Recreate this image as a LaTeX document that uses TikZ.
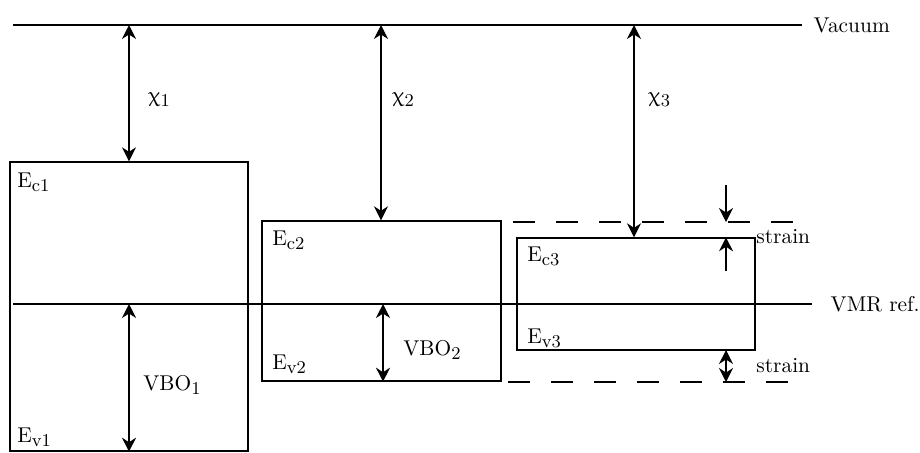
\documentclass[tikz,border=0pt]{standalone}
\usepackage{upgreek}
\usetikzlibrary{arrows.meta}
\DeclareMathSizes{10.7}{10.7}{9.4}{8}
\tikzset{
  level/.style={line width=0.7pt},
  band/.style={draw, line width=0.7pt, rectangle, inner sep=0pt},
  offset/.style={line width=0.7pt, {Stealth[length=7pt,width=7pt]}-{Stealth[length=7pt,width=7pt]}},
  pointer/.style={line width=0.7pt, -{Stealth[length=7pt,width=7pt]}},
  refline/.style={line width=0.7pt, dash pattern=on 11pt off 10.5pt},
  lbl/.style={anchor=west, inner sep=0pt},
}

\begin{document}
\begin{tikzpicture}[x=0.5pt, y=-0.5pt, font=\fontsize{10.7}{13}\selectfont]
\useasboundingbox (0,0) rectangle (920,452);
% reference levels
\coordinate (vacL) at (13,25);
\coordinate (vacR) at (802,25);
\coordinate (vmrL) at (13,304);
\coordinate (vmrR) at (812,304);
\draw[level] (vacL) -- (vacR) node[lbl, right=5.5pt] (vaclbl) {Vacuum};
\draw[level] (vmrL) -- (vmrR) node[lbl, right=9pt] (vmrlbl) {VMR ref.};
% bands
\node[band, minimum width=119pt, minimum height=144.5pt] (b1) at (129,306.5) {};
\node[band, minimum width=119.5pt, minimum height=80pt] (b2) at (381.5,301) {};
\node[band, minimum width=119pt, minimum height=56pt] (b3) at (636,294) {};
% unstrained positions of layer 3
\coordinate (ecL) at (513,222);
\coordinate (ecR) at (798,222);
\coordinate (evL) at (508,382);
\coordinate (evR) at (792,382);
\draw[refline] (ecL) -- (ecR);
\draw[refline] (evL) -- (evR);
% electron affinities
\coordinate (x1) at (129,25);
\coordinate (x2) at (381,25);
\coordinate (x3) at (634,25);
\draw[offset] (x1) -- (x1 |- b1.north);
\draw[offset] (x2) -- (x2 |- b2.north);
\draw[offset] (x3) -- (x3 |- b3.north);
\node[lbl] (chi1) at (148,100) {$\upchi_1$};
\node[lbl] (chi2) at (392,100) {$\upchi_2$};
\node[lbl] (chi3) at (648,100) {$\upchi_3$};
% valence band offsets
\coordinate (o1) at (129,304);
\coordinate (o2) at (383,304);
\draw[offset] (o1) -- (o1 |- b1.south);
\draw[offset] (o2) -- (o2 |- b2.south);
\node[lbl] (vbo1) at (143,385) {VBO$_1$};
\node[lbl] (vbo2) at (403,350) {VBO$_2$};
% band edge labels
\node[lbl] (ec1) at (17,182) {E$_{\mathrm{c1}}$};
\node[lbl] (ev1) at (17,437) {E$_{\mathrm{v1}}$};
\node[lbl] (ec2) at (272,240) {E$_{\mathrm{c2}}$};
\node[lbl] (ev2) at (272,364) {E$_{\mathrm{v2}}$};
\node[lbl] (ec3) at (527,256) {E$_{\mathrm{c3}}$};
\node[lbl] (ev3) at (527,338) {E$_{\mathrm{v3}}$};
% strain
\coordinate (s1) at (726,185);
\coordinate (s2) at (726,271);
\coordinate (s3) at (726,350);
\draw[pointer] (s1) -- (s1 |- ecL);
\draw[pointer] (s2) -- (s2 |- b3.north);
\draw[offset] (s3) -- (s3 |- evL);
\node[lbl] (str1) at (756,237) {strain};
\node[lbl] (str2) at (756,366) {strain};
\end{tikzpicture}
\end{document}
